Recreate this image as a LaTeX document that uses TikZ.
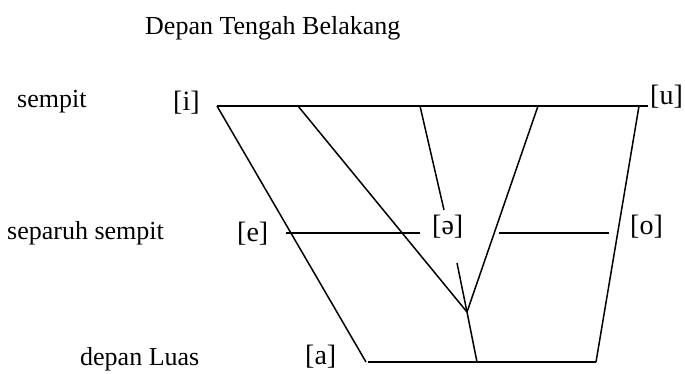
\documentclass[tikz,border=0pt]{standalone}
\usepackage{fontspec}
\setmainfont{Liberation Serif}
\begin{document}
\begin{tikzpicture}[
    x=1pt, y=-1pt,
    lbl/.style={font=\fontsize{26}{30}\selectfont, inner sep=0pt, anchor=base west},
    snd/.style={font=\fontsize{28}{32}\selectfont, inner sep=0pt, anchor=base west},
    ln/.style={line width=1.5pt},
]
\useasboundingbox (0,0) rectangle (685,373);

% Header and row names
\node[lbl] (hdr) at (145, 34) {Depan Tengah Belakang};
\node[lbl] (rowclose) at (17, 107) {sempit};
\node[lbl] (rowmid) at (7, 239) {separuh sempit};
\node[lbl] (rowopen) at (80, 365) {depan Luas};

% Vowel labels
\node[snd] (vi) at (173, 110) {[i]};
\node[snd] (vu) at (650, 104) {[u]};
\node[snd] (ve) at (237, 241) {[e]};
\node[snd] (vschwa) at (432, 234) {[ə]};
\node[snd] (vo) at (630, 234) {[o]};
\node[snd] (va) at (305, 364) {[a]};

% Corners and line ends
\coordinate (tl) at (217, 106);
\coordinate (tr) at (648, 106);
\coordinate (tRight) at (639, 106);
\coordinate (t2) at (298, 106);
\coordinate (t3) at (420, 106);
\coordinate (t4) at (538, 106);
\coordinate (s3) at (444, 210);
\coordinate (s4) at (457, 263);
\coordinate (vx) at (467, 312);
\coordinate (bl) at (368, 362);
\coordinate (bLeft) at (366, 362);
\coordinate (bm) at (477, 362);
\coordinate (br) at (596, 362);
\coordinate (m1) at (286, 233);
\coordinate (m2) at (420, 233);
\coordinate (m3) at (499, 233);
\coordinate (m4) at (609, 233);

% Chart lines
\draw[ln] (tl) -- (tr);
\draw[ln] (tl) -- (bLeft);
\draw[ln] (tRight) -- (br);
\draw[ln] (bl) -- (br);
\draw[ln] (t2) -- (vx);
\draw[ln] (t4) -- (vx);
\draw[ln] (t3) -- (s3);
\draw[ln] (s4) -- (vx) -- (bm);
\draw[ln] (m1) -- (m2);
\draw[ln] (m3) -- (m4);

\end{tikzpicture}
\end{document}
